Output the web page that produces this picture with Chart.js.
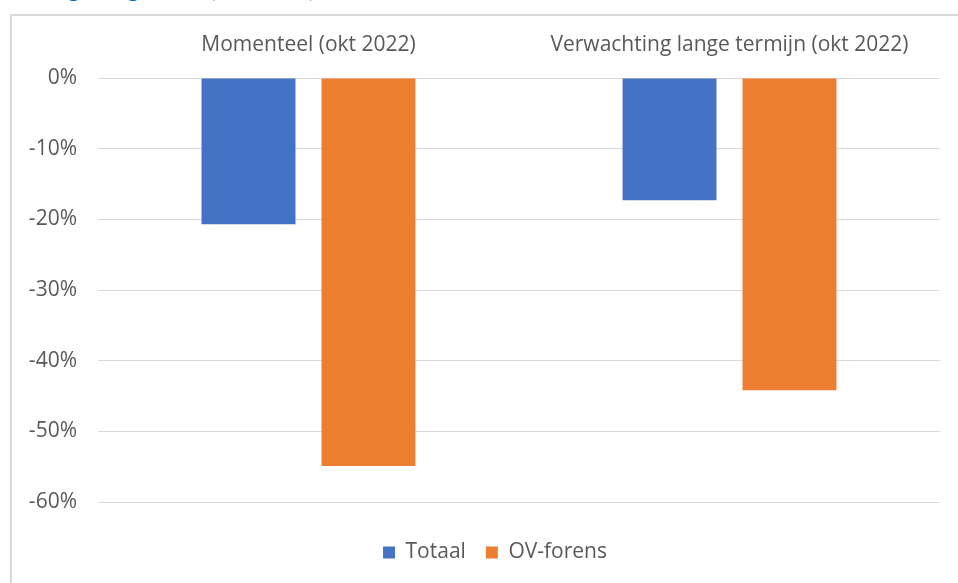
<!DOCTYPE html>
<html>
<head>
<meta charset="utf-8">
<script src="https://cdn.jsdelivr.net/npm/chart.js@4"></script>
<style>
  body { margin: 0; background: #fff; overflow: hidden; }
  #wrap { position: relative; width: 958px; height: 583px; }
  #title { position: absolute; left: 14px; top: -26px; font: bold 23px Lato, sans-serif; color: #0070C0; white-space: nowrap; }
  #box { position: absolute; left: 10px; top: 14px; width: 960px; height: 600px; border-left: 2px solid #d9d9d9; border-top: 2px solid #d9d9d9; }
  #myChart { position: absolute; left: 0; top: 0; }
</style>
</head>
<body>
<div id="wrap">
  <div id="title">Daling OV-gebruik (okt 2022)</div>
  <div id="box"></div>
  <canvas id="myChart" width="958" height="583"></canvas>
</div>
<script>
let categories = ['Momenteel (okt 2022)', 'Verwachting lange termijn (okt 2022)'];
let totaal = [-20.7, -17.3];
let ovForens = [-54.9, -44.2];
let yTicks = [0, -10, -20, -30, -40, -50, -60];

// legend sits a bit right of the canvas centre in the original
const shiftLegend = {
    id: 'shiftLegend',
    afterUpdate(chart) {
        if (chart.legend) {
            chart.legend.left += 25;
            chart.legend.right += 25;
        }
    }
};

const ctx = document.getElementById('myChart');
new Chart(ctx, {
    type: 'bar',
    data: {
        labels: categories,
        datasets: [{
            label: 'Totaal',
            data: totaal,
            backgroundColor: '#4472C4'
        }, {
            label: 'OV-forens',
            data: ovForens,
            backgroundColor: '#ED7D31'
        }]
    },
    plugins: [shiftLegend],
    options: {
        responsive: false,
        animation: false,
        categoryPercentage: 0.57,
        barPercentage: 0.783,
        layout: { padding: { left: 0, right: 18, top: 20, bottom: 10 } },
        plugins: {
            legend: {
                position: 'bottom',
                labels: {
                    boxWidth: 12,
                    boxHeight: 12,
                    padding: 20,
                    color: '#595959',
                    font: { family: 'Open Sans', size: 21 }
                }
            },
            tooltip: { enabled: false }
        },
        scales: {
            x: {
                position: 'top',
                grid: { display: false },
                border: { display: false },
                ticks: {
                    color: '#595959',
                    padding: 12,
                    font: { family: 'Open Sans', size: 21 }
                },
                afterFit: (scale) => { scale.height = 58; }
            },
            // empty spacer under the plot so the legend sits lower
            spacer: {
                type: 'category',
                position: 'bottom',
                grid: { display: false },
                border: { display: false },
                ticks: { display: false },
                afterFit: (scale) => { scale.height = 20; }
            },
            y: {
                min: -60,
                max: 0,
                afterBuildTicks: (scale) => { scale.ticks = yTicks.map(v => ({ value: v })); },
                ticks: {
                    color: '#595959',
                    padding: 21,
                    font: { family: 'Open Sans', size: 21 },
                    callback: (value) => value + '%'
                },
                grid: { color: '#d9d9d9', drawTicks: false },
                border: { display: false },
                afterFit: (scale) => { scale.width = 98; }
            }
        }
    }
});
</script>
</body>
</html>
